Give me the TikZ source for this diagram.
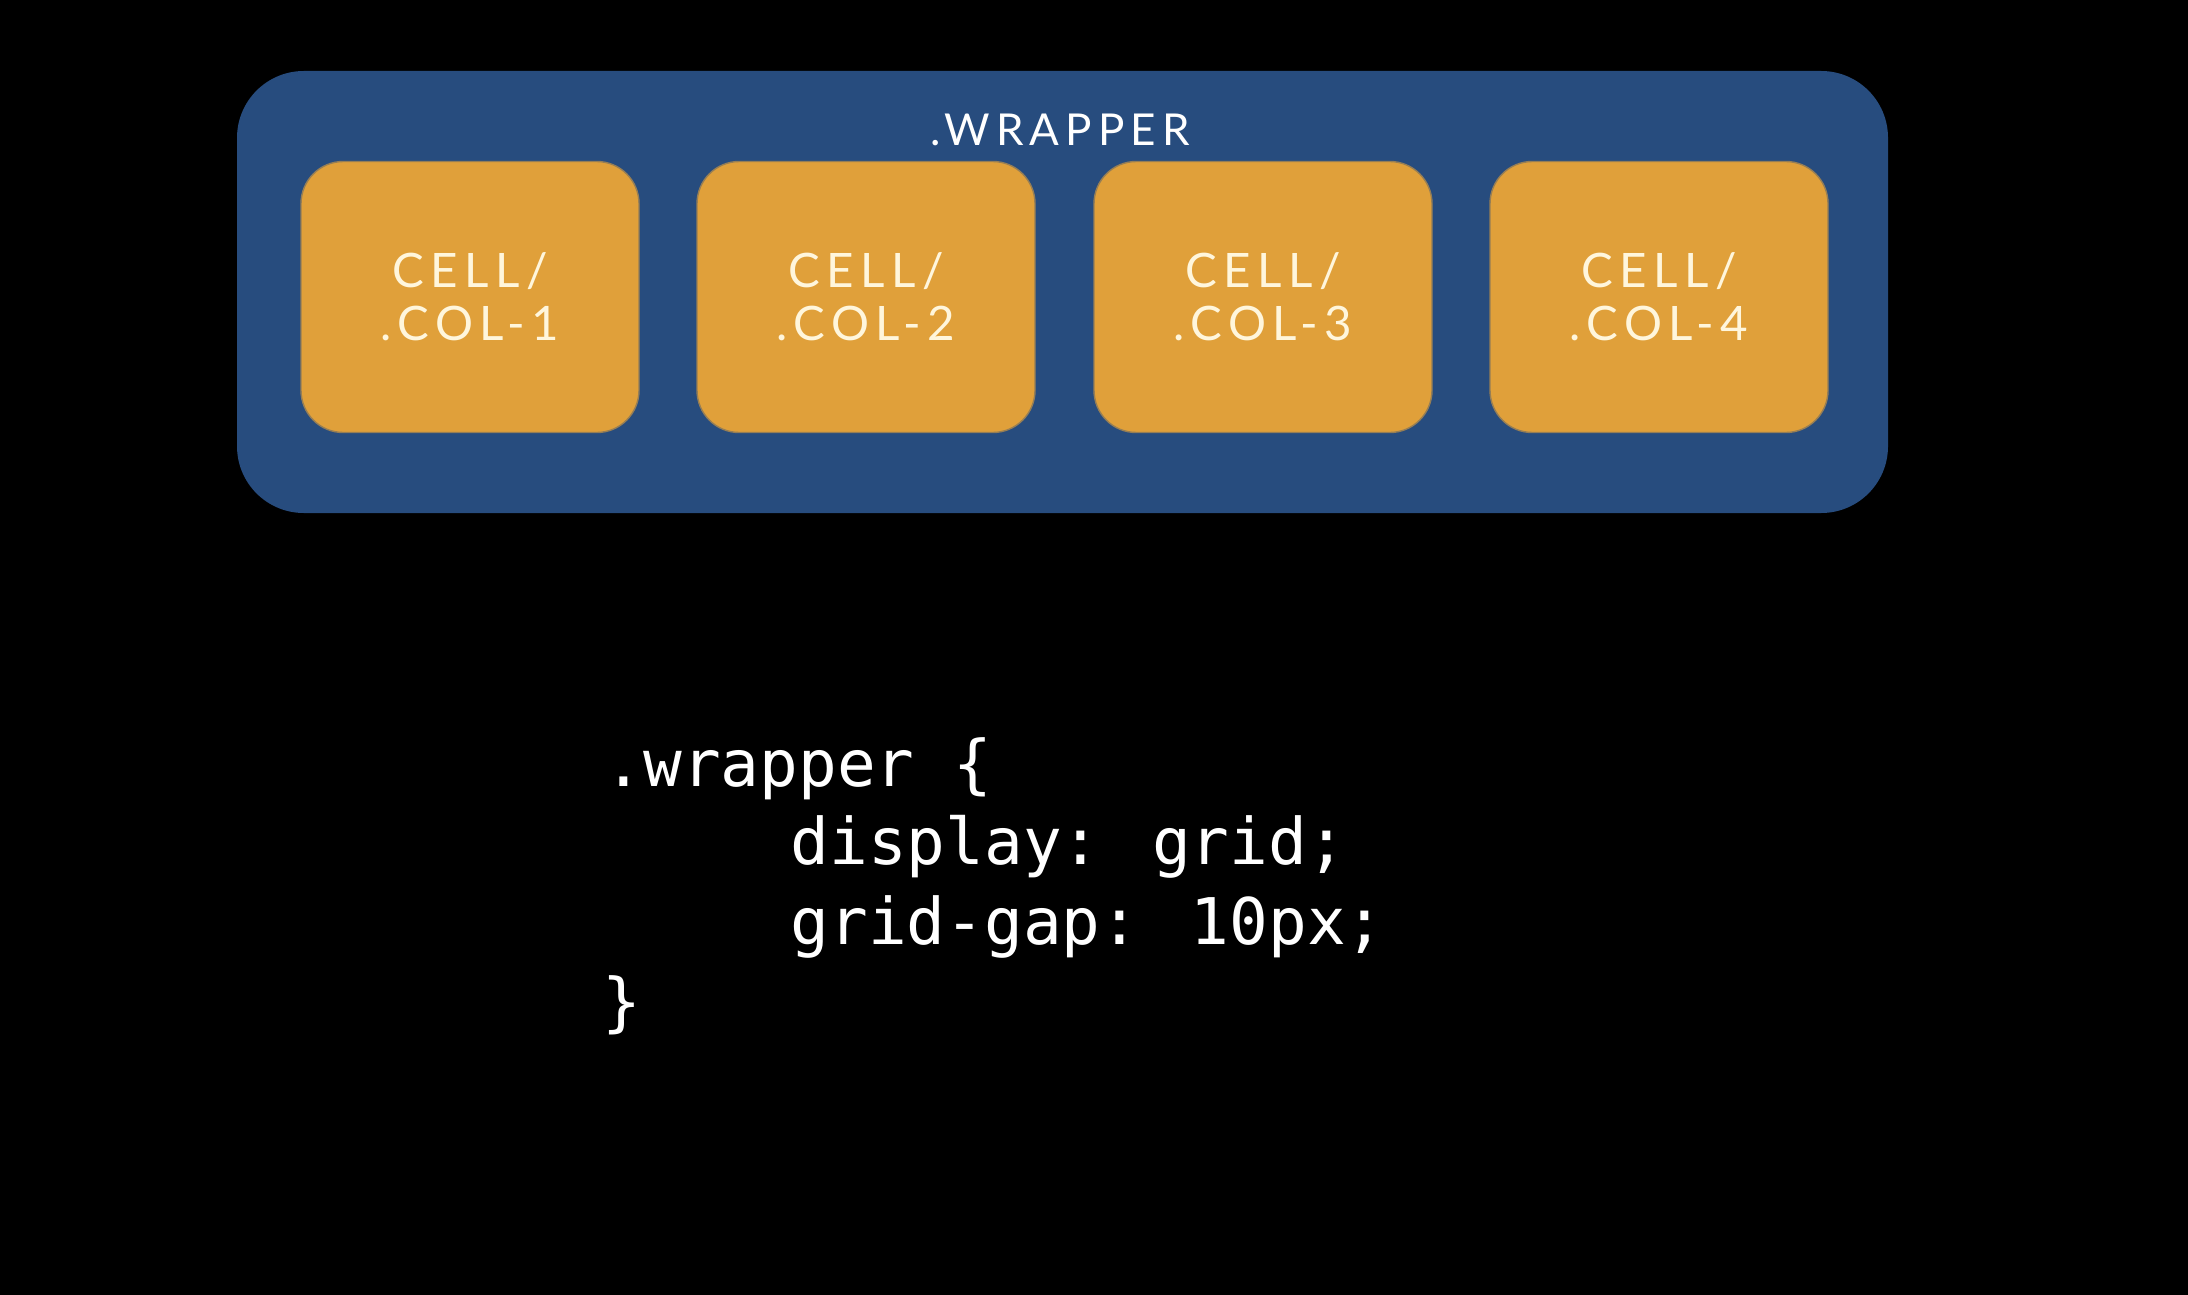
\documentclass[tikz,border=0pt]{standalone}
\usepackage{fontspec}
\setmainfont{Lato}[LetterSpace=14]
\newfontfamily\codefont{DejaVu Sans Mono}
\definecolor{bgblue}{HTML}{274C7E}
\definecolor{cellor}{HTML}{E0A03A}
\definecolor{celltxt}{HTML}{FFF6DC}
\begin{document}
\begin{tikzpicture}[x=0.01cm,y=-0.01cm,
  cellbox/.style={fill=cellor,draw=cellor!60!bgblue,line width=0.4pt,rounded corners=12pt,
    minimum width=338*0.01cm,minimum height=271*0.01cm,inner sep=0pt,
    text=celltxt,align=center,font=\fontsize{13.5}{15}\selectfont},
  codeline/.style={anchor=base west,inner sep=0pt,text=white,font=\codefont\fontsize{18.3}{20}\selectfont}]
\useasboundingbox (0,0) rectangle (2188,1294);
\fill[black] (-20,-20) rectangle (2208,1314);
\node[fill=bgblue,rounded corners=19pt,minimum width=1651*0.01cm,minimum height=442*0.01cm,inner sep=0pt] (wrap) at (1062.5,292) {};
\node[text=white,font=\fontsize{12.5}{14}\selectfont,inner sep=0pt] (wlabel) at (1060,130) {.WRAPPER};
\node[cellbox] (c1) at (470,297) {CELL/\\.COL-1};
\node[cellbox] (c2) at (866,297) {CELL/\\.COL-2};
\node[cellbox] (c3) at (1263,297) {CELL/\\.COL-3};
\node[cellbox] (c4) at (1659,297) {CELL/\\.COL-4};
\node[codeline] (l1) at (604,786) {.wrapper \{};
\node[codeline] (l2) at (790,864) {display: grid;};
\node[codeline] (l3) at (790,944) {grid-gap: 10px;};
\node[codeline] (l4) at (602,1024) {\}};
\end{tikzpicture}
\end{document}
